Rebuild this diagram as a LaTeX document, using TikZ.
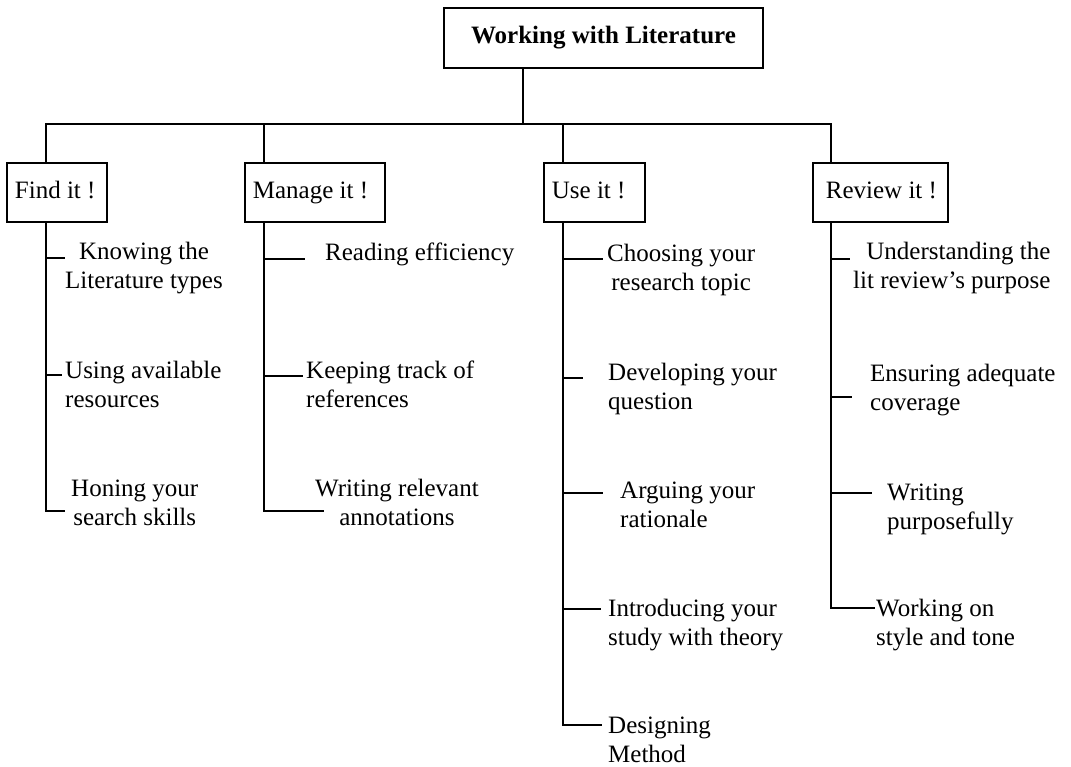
\documentclass[tikz,border=0pt]{standalone}
\usepackage{fontspec}
\setmainfont{Liberation Serif}
\usetikzlibrary{calc}
\newcommand\litfont{\fontsize{25}{29}\selectfont}
\newcommand\catlabel[2]{\makebox[#1][l]{\strut #2}}
\tikzset{
	titlebox/.style={draw, line width=1.8pt, minimum width=319pt, minimum height=60pt, font=\litfont\bfseries},
	catbox/.style={draw, line width=1.8pt, anchor=north west, minimum height=59pt, inner xsep=8pt},
	item/.style={anchor=north west, inner sep=0pt},
	conn/.style={line width=1.8pt}
}

\begin{document}
\begin{tikzpicture}[x=1pt, y=-1pt, font=\litfont]
			%%%%% START %%%%%
			
			\path[use as bounding box, fill=white] (0, 0) rectangle (1071, 766);
			
			\node[titlebox] (title) at (603.5, 38) {Working with Literature};
			
			\node[catbox] (find) at (6, 162) {\catlabel{84pt}{Find it !}};
			\node[catbox] (manage) at (244, 162) {\catlabel{124pt}{Manage it !}};
			\node[catbox] (use) at (543, 162) {\catlabel{85pt}{Use it !}};
			\node[catbox] (review) at (812, 162) {\catlabel{119pt}{\hspace{5pt}Review it !}};
			
			\node[item, align=center] (knowing) at (65, 239) {\strut Knowing the\\Literature types};
			\node[item, align=left] (using) at (65, 358) {\strut Using available\\resources};
			\node[item, align=center] (honing) at (71, 476) {\strut Honing your\\search skills};
			
			\node[item] (reading) at (325, 240) {\strut Reading efficiency};
			\node[item, align=left] (keeping) at (306, 358) {\strut Keeping track of\\references};
			\node[item, align=center] (annot) at (315, 476) {\strut Writing relevant\\annotations};
			
			\node[item, align=center] (choosing) at (607, 241) {\strut Choosing your\\research topic};
			\node[item, align=left] (developing) at (608, 360) {\strut Developing your\\question};
			\node[item, align=left] (arguing) at (620, 478) {\strut Arguing your\\rationale};
			\node[item, align=left] (introducing) at (608, 596) {\strut Introducing your\\study with theory};
			\node[item, align=left] (designing) at (608, 713) {\strut Designing\\Method};
			
			\node[item, align=right] (understanding) at (853, 239) {\strut Understanding the\\lit review’s purpose};
			\node[item, align=left] (ensuring) at (870, 361) {\strut Ensuring adequate\\coverage};
			\node[item, align=left] (purposeful) at (887, 480) {\strut Writing\\purposefully};
			\node[item, align=left] (styletone) at (876, 596) {\strut Working on\\style and tone};
			
			% bus and drops
			\coordinate (fx) at (46, 124);
			\coordinate (mx) at (264, 124);
			\coordinate (ux) at (563, 124);
			\coordinate (rx) at (831, 124);
			\coordinate (stem) at ($(title.south west)!0.25!(title.south east)$);
			
			\draw[conn] (stem) -- (stem |- fx);
			\draw[conn] (fx |- find.north) -- (fx) -- (rx) -- (rx |- review.north);
			\draw[conn] (mx) -- (mx |- manage.north);
			\draw[conn] (ux) -- (ux |- use.north);
			
			% find it
			\coordinate (f1) at (65, 258);
			\coordinate (f2) at (62, 375);
			\coordinate (f3) at (65, 511);
			\draw[conn] (fx |- find.south) |- (f3);
			\draw[conn] (fx |- f1) -- (f1);
			\draw[conn] (fx |- f2) -- (f2);
			
			% manage it
			\coordinate (m1) at (305, 259);
			\coordinate (m2) at (303, 376);
			\coordinate (m3) at (324, 511);
			\draw[conn] (mx |- manage.south) |- (m3);
			\draw[conn] (mx |- m1) -- (m1);
			\draw[conn] (mx |- m2) -- (m2);
			
			% use it
			\coordinate (u1) at (603, 259);
			\coordinate (u2) at (583, 378);
			\coordinate (u3) at (603, 493);
			\coordinate (u4) at (601, 609);
			\coordinate (u5) at (602, 725);
			\draw[conn] (ux |- use.south) |- (u5);
			\draw[conn] (ux |- u1) -- (u1);
			\draw[conn] (ux |- u2) -- (u2);
			\draw[conn] (ux |- u3) -- (u3);
			\draw[conn] (ux |- u4) -- (u4);
			
			% review it
			\coordinate (r1) at (850, 259);
			\coordinate (r2) at (852, 397);
			\coordinate (r3) at (872, 493);
			\coordinate (r4) at (875, 608);
			\draw[conn] (rx |- review.south) |- (r4);
			\draw[conn] (rx |- r1) -- (r1);
			\draw[conn] (rx |- r2) -- (r2);
			\draw[conn] (rx |- r3) -- (r3);
			
			%%%%% END %%%%%
		\end{tikzpicture}
\end{document}
